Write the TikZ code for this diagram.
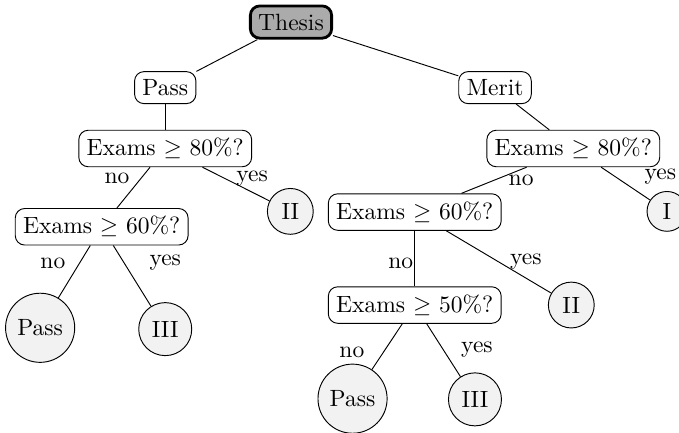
\documentclass[tikz,border=0pt]{standalone}
\usepackage{xcolor}
\usepackage{tikz}
\usepackage{amsmath}
\usepackage{amssymb}
\usetikzlibrary{shapes, positioning}

\begin{document}
\begin{tikzpicture}[
    root/.style={rectangle, draw, very thick, fill=black!33, rounded corners},
    choice/.style={rectangle, draw, fill=white, rounded corners},
    grade/.style={circle, draw, fill=gray!10},
    ans/.style={inner sep=1pt}
]
    \useasboundingbox (0, 0) rectangle (10.15, 6.47);
    \clip (0, 0) rectangle (10.15, 6.47);

    \node[root] (thesis) at (4.35, 6.14) {Thesis};

    \node[choice] (pass) at (2.47, 5.16) {Pass};
    \node[choice] (merit) at (7.40, 5.16) {Merit};

    \node[choice] (pe80) at (2.47, 4.25) {Exams $\geq$ 80\%?};
    \node[choice] (pe60) at (1.52, 3.08) {Exams $\geq$ 60\%?};
    \node[grade] (pii) at (4.34, 3.31) {II};
    \node[grade] (ppass) at (0.60, 1.57) {Pass};
    \node[grade] (piii) at (2.47, 1.55) {III};

    \node[choice] (me80) at (8.57, 4.25) {Exams $\geq$ 80\%?};
    \node[choice] (me60) at (6.20, 3.30) {Exams $\geq$ 60\%?};
    \node[grade] (mi) at (9.97, 3.31) {I};
    \node[choice] (me50) at (6.20, 1.91) {Exams $\geq$ 50\%?};
    \node[grade] (mii) at (8.54, 1.91) {II};
    \node[grade] (mpass) at (5.27, 0.51) {Pass};
    \node[grade] (miii) at (7.10, 0.50) {III};

    \draw (thesis) -- (pass);
    \draw (thesis) -- (merit);
    \draw (pass) -- (pe80);
    \draw (pe80) -- (pe60);
    \draw (pe80) -- (pii);
    \draw (pe60) -- (ppass);
    \draw (pe60) -- (piii);
    \draw (merit) -- (me80);
    \draw (me80) -- (me60);
    \draw (me80) -- (mi);
    \draw (me60) -- (me50);
    \draw (me60) -- (mii);
    \draw (me50) -- (mpass);
    \draw (me50) -- (miii);

    \node[ans] (pe80no) at (1.75, 3.81) {no};
    \node[ans] (pe80yes) at (3.77, 3.80) {yes};
    \node[ans] (pe60no) at (0.79, 2.53) {no};
    \node[ans] (pe60yes) at (2.47, 2.54) {yes};
    \node[ans] (me80no) at (7.79, 3.78) {no};
    \node[ans] (me80yes) at (9.87, 3.83) {yes};
    \node[ans] (me60no) at (5.99, 2.53) {no};
    \node[ans] (me60yes) at (7.86, 2.56) {yes};
    \node[ans] (me50no) at (5.26, 1.21) {no};
    \node[ans] (me50yes) at (7.13, 1.24) {yes};
\end{tikzpicture}
\end{document}
